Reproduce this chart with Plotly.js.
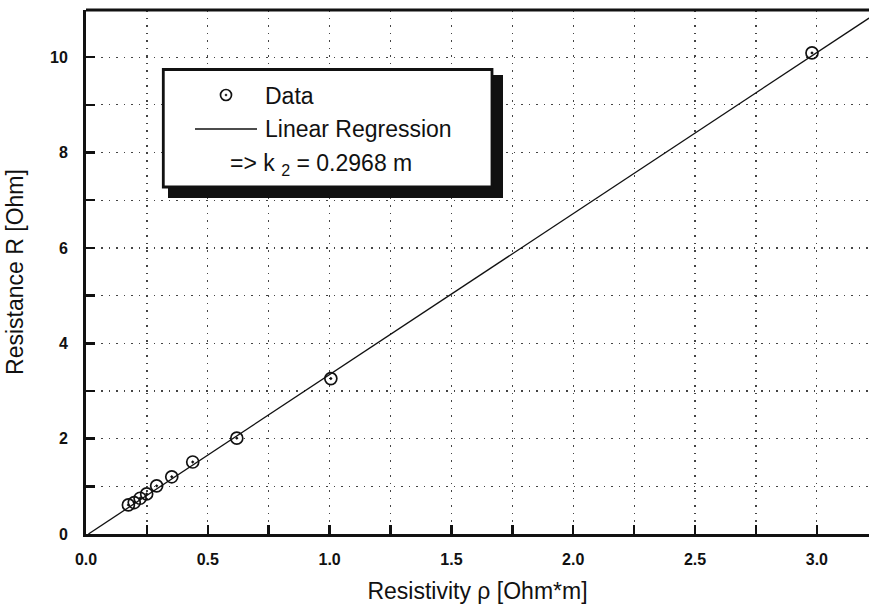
<!DOCTYPE html>
<html>
<head>
<meta charset="utf-8">
<script src="https://cdn.plot.ly/plotly-3.0.1.min.js"></script>
<style>html,body{margin:0;padding:0;background:#fff;}#chart{width:869px;height:607px;}</style>
</head>
<body>
<div id="chart"></div>
<script>
// Data
var resistivity = [0.174, 0.198, 0.222, 0.249, 0.290, 0.352, 0.438, 0.619, 1.005, 2.98];
var resistance  = [0.61, 0.66, 0.75, 0.84, 1.01, 1.20, 1.51, 2.01, 3.26, 10.09];
var regX = [0.01, 3.214];
var regY = [0, 10.82];
var xTickVals = [0, 0.5, 1.0, 1.5, 2.0, 2.5, 3.0];
var xTickText = ['0.0', '0.5', '1.0', '1.5', '2.0', '2.5', '3.0'];
var xMinorVals = [0.25, 0.75, 1.25, 1.75, 2.25, 2.75];
var yTickVals = [0, 2, 4, 6, 8, 10];
var yTickText = ['0', '2', '4', '6', '8', '10'];
var yMinorVals = [1, 3, 5, 7, 9];
var legendLabels = ['Data', 'Linear Regression', '=> k <sub>2</sub> = 0.2968 m'];

var W = 869, H = 607, ML = 86, MR = 0, MT = 10, MB = 73;
var PW = W - ML - MR, PH = H - MT - MB;
function px(X) { return (X - ML) / PW; }
function py(Y) { return (H - MB - Y) / PH; }

var font = 'Liberation Sans, Arial, Helvetica, sans-serif';
var ink = '#111';

var traces = [
  {x: regX, y: regY, type: 'scatter', mode: 'lines', name: 'Linear Regression',
   line: {color: ink, width: 1.3}, showlegend: false, hoverinfo: 'skip'},
  {x: resistivity, y: resistance, type: 'scatter', mode: 'markers', name: 'Data',
   marker: {symbol: 'circle-open-dot', size: 12, color: ink, line: {color: ink, width: 1.7}}, showlegend: false}
];

function axisCommon(range, tv, tt, mv, standoff) {
  return {
    range: range, tickmode: 'array', tickvals: tv, ticktext: tt,
    ticks: 'inside', ticklen: 9, tickwidth: 2.5, tickcolor: ink,
    showline: true, linewidth: 3, linecolor: ink, zeroline: false,
    showgrid: true, gridcolor: '#444', gridwidth: 1.2, griddash: '1.5px,6px',
    tickfont: {family: font, size: 16, weight: 'bold', color: ink},
    ticklabelstandoff: standoff,
    minor: {tickmode: 'array', tickvals: mv, ticks: 'inside', ticklen: 9, tickwidth: 2.5, tickcolor: ink,
            showgrid: true, gridcolor: '#444', gridwidth: 1.2, griddash: '1.5px,6px'}
  };
}
var xa = axisCommon([0, 3.214], xTickVals, xTickText, xMinorVals, 9);
xa.title = {text: 'Resistivity \u03c1 [Ohm*m]', font: {family: font, size: 23, color: ink}, standoff: 16};
var ya = axisCommon([0, 10.99], yTickVals, yTickText, yMinorVals, 12);
ya.title = {text: 'Resistance R [Ohm]', font: {family: font, size: 23, color: ink}, standoff: 20};

var layout = {
  width: W, height: H,
  margin: {l: ML, r: MR, t: MT, b: MB, pad: 0},
  paper_bgcolor: '#fff', plot_bgcolor: '#fff',
  showlegend: false,
  font: {family: font, color: ink},
  xaxis: xa,
  yaxis: ya,
  shapes: [
    // top frame line
    {type: 'line', xref: 'paper', yref: 'paper', x0: 0, x1: 1, y0: 1, y1: 1, line: {color: ink, width: 3}},
    // legend shadow
    {type: 'rect', xref: 'paper', yref: 'paper', x0: px(168), x1: px(503), y0: py(75), y1: py(198),
     fillcolor: ink, line: {width: 0}},
    // legend box
    {type: 'rect', xref: 'paper', yref: 'paper', x0: px(163.3), x1: px(492), y0: py(69.5), y1: py(187),
     fillcolor: '#fff', line: {color: ink, width: 2.8}},
    // legend marker sample
    {type: 'circle', xref: 'paper', yref: 'paper', x0: px(220.5), x1: px(231.5), y0: py(89.5), y1: py(100.5),
     fillcolor: 'rgba(0,0,0,0)', line: {color: ink, width: 1.7}},
    {type: 'circle', xref: 'paper', yref: 'paper', x0: px(225), x1: px(227), y0: py(94), y1: py(96),
     fillcolor: ink, line: {color: ink, width: 0.5}},
    // legend line sample
    {type: 'line', xref: 'paper', yref: 'paper', x0: px(195), x1: px(257), y0: py(129), y1: py(129),
     line: {color: ink, width: 1.3}}
  ],
  annotations: [
    {xref: 'paper', yref: 'paper', x: px(263), y: py(96), xanchor: 'left', yanchor: 'middle', showarrow: false,
     text: legendLabels[0], font: {family: font, size: 23, color: ink}},
    {xref: 'paper', yref: 'paper', x: px(263), y: py(129), xanchor: 'left', yanchor: 'middle', showarrow: false,
     text: legendLabels[1], font: {family: font, size: 23, color: ink}},
    {xref: 'paper', yref: 'paper', x: px(228), y: py(164), xanchor: 'left', yanchor: 'middle', showarrow: false,
     text: legendLabels[2], font: {family: font, size: 23, color: ink}}
  ]
};

Plotly.newPlot('chart', traces, layout, {displayModeBar: false, staticPlot: true});
</script>
</body>
</html>
